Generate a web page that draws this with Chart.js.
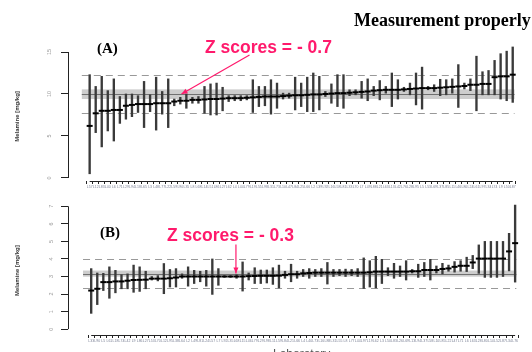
<!DOCTYPE html>
<html>
<head>
<meta charset="utf-8">
<script src="https://cdn.jsdelivr.net/npm/chart.js@4"></script>
<style>
  html, body { margin: 0; padding: 0; background: #fff; }
  body { width: 532px; height: 352px; position: relative; overflow: hidden; }
  canvas { position: absolute; left: 0; }
  #chartA { top: 0; }
  #chartB { top: 195px; }
  .txt { position: absolute; white-space: nowrap; }
  .serif { font-family: "Liberation Serif", "Times New Roman", serif; font-weight: bold; color: #000; }
  .zs { font-family: "Liberation Sans", Arial, sans-serif; font-weight: bold; color: #ff1a6c; font-size: 17.5px; line-height: 18px; }
</style>
</head>
<body>
<canvas id="chartA" width="532" height="195"></canvas>
<canvas id="chartB" width="532" height="157"></canvas>

<div class="txt serif" style="left:354px; top:11px; font-size:18px; line-height:18px;">Measurement properly</div>
<div class="txt serif" style="left:97px; top:41px; font-size:15px; line-height:15px;">(A)</div>
<div class="txt serif" style="left:100px; top:225px; font-size:15px; line-height:15px;">(B)</div>
<div class="txt zs" style="left:205px; top:38px;">Z scores = - 0.7</div>
<div class="txt zs" style="left:167px; top:226px;">Z scores = - 0.3</div>
<div class="txt" style="left:273px; top:347px; font:12px 'Liberation Sans', sans-serif; color:#555;">Laboratory</div>

<script>
/* ------------------------------------------------------------
   Data
   ------------------------------------------------------------ */

// panel A - lab codes, sorted by result
const labsA = [57,12,83,40,6,71,29,94,18,65,3,48,77,22,59,90,35,8,68,14,51,86,27,62,4,44,79,19,55,98,31,73,10,47,84,25,66,2,39,92,16,58,81,33,70,7,49,88,21,63,13,42,76,28,95,5,53,69,37,85,11,46,80,24,61,97,34,74,9,50,87];
const valA = [6.2,7.7,8.0,8.0,8.1,8.1,8.6,8.7,8.8,8.8,8.8,8.9,8.9,8.9,9.1,9.2,9.2,9.3,9.3,9.35,9.4,9.4,9.45,9.5,
              9.5,9.5,9.55,9.6,9.65,9.7,9.7,9.7,9.75,9.8,9.85,9.85,9.9,9.95,9.95,10.0,10.05,10.1,10.1,10.15,10.2,10.25,10.3,10.4,
              10.45,10.5,10.5,10.5,10.55,10.6,10.65,10.7,10.7,10.7,10.75,10.8,10.85,10.9,10.95,11.1,11.1,11.2,11.2,12.0,12.1,12.1,12.3];
const loA  = [0.5,5.4,3.7,5.6,4.4,6.5,7.0,7.3,7.8,6.0,7.9,5.7,7.6,6.0,8.6,8.8,8.3,8.9,8.9,7.7,7.5,7.5,8.0,9.1,
              9.2,9.2,9.3,7.8,8.5,8.6,7.6,8.3,9.4,9.5,8.1,8.5,7.9,7.9,8.1,9.7,8.9,8.5,8.3,9.8,9.9,9.5,9.2,9.8,
              9.3,10.1,8.5,9.4,10.3,9.9,8.7,8.2,10.5,10.3,9.8,9.9,10.1,8.4,10.6,10.4,8.0,9.9,9.9,9.9,9.4,9.2,9.0];
const hiA  = [12.3,10.9,12.1,10.4,11.8,9.7,10.0,10.0,9.8,11.5,9.9,12.0,10.3,11.8,9.4,9.6,10.0,9.6,9.7,10.9,11.2,11.3,10.8,9.8,
              9.8,9.8,9.8,11.7,10.9,10.9,11.7,11.3,10.1,10.1,12.0,11.3,12.0,12.5,12.1,10.3,11.2,12.3,12.3,10.5,10.5,11.5,11.8,10.9,
              11.6,10.9,12.5,11.7,10.8,11.3,12.5,13.2,10.9,11.1,11.75,11.7,11.8,13.5,11.3,11.8,14.5,12.65,12.8,14.0,14.8,15.1,15.6];
const meanA = 10.0;
const bandA = [9.4, 10.55];
const limitsA = [7.78, 12.3];
const ticksA = [0, 5, 10, 15];
const arrowA = [16.2, 10.0];   // lab position, value

// panel B
const labsB = [33,90,5,61,18,74,42,9,86,27,53,70,12,95,38,64,2,49,81,24,57,7,92,35,68,15,46,79,29,98,11,59,84,21,66,4,40,73,16,88,31,55,8,77,44,97,19,62,3,50,83,26,69,13,94,37,58,10,85,22,47,71,6,63,28,80,14,52,87,34,76];
const valB = [2.2,2.3,2.68,2.68,2.72,2.72,2.76,2.8,2.81,2.82,2.88,2.88,2.88,2.9,2.94,3.0,3.0,3.0,3.0,3.0,3.0,3.0,3.0,3.0,3.0,3.0,3.02,3.03,
              3.04,3.04,3.04,3.05,3.09,3.13,3.13,3.18,3.2,3.22,3.22,3.22,3.22,3.22,3.22,3.22,3.22,3.22,3.24,3.28,3.28,3.28,3.28,3.28,3.28,
              3.3,3.3,3.37,3.37,3.37,3.43,3.46,3.55,3.61,3.61,3.8,4.02,4.02,4.02,4.02,4.02,4.43,4.9];
const loB  = [0.9,1.4,2.2,1.76,2.07,2.3,2.3,2.1,2.15,2.3,2.8,2.75,2.02,2.4,2.4,2.9,2.45,2.6,2.7,2.45,1.98,2.5,2.95,2.95,2.9,2.17,2.8,2.6,
              2.6,2.63,2.55,2.35,2.9,2.7,2.9,3.0,2.9,3.0,3.0,2.57,3.0,3.05,3.0,3.05,3.0,2.32,2.4,2.35,2.6,3.05,2.9,3.0,2.8,
              3.2,2.95,3.0,2.8,3.2,3.15,3.3,3.25,3.3,3.28,3.45,3.18,2.95,2.95,2.95,3.0,3.32,2.68];
const hiB  = [3.45,3.2,3.18,3.55,3.35,3.1,3.15,3.65,3.55,3.3,3.0,3.05,3.74,3.4,3.45,3.15,3.55,3.35,3.3,3.35,4.0,3.45,3.05,3.05,3.1,3.83,3.2,3.5,
              3.37,3.37,3.5,3.65,3.3,3.7,3.3,3.4,3.45,3.4,3.45,3.8,3.4,3.4,3.42,3.4,3.45,4.06,3.9,4.15,3.98,3.5,3.75,3.6,3.9,
              3.4,3.7,3.8,3.98,3.6,3.75,3.65,3.85,3.9,4.1,4.2,4.8,5.0,5.0,5.0,5.0,5.46,7.07];
const meanB = 3.17;
const bandB = [2.99, 3.34];
const limitsB = [2.32, 4.02];
const ticksB = [0, 1, 2, 3, 4, 5, 6, 7];
const arrowB = [24.9, 3.17];

Chart.defaults.font.family = "'Liberation Sans', Arial, sans-serif";

/* ------------------------------------------------------------
   Plugin: consensus band, mean line, limits, R-style axis lines, arrow
   ------------------------------------------------------------ */
const refLines = {
  id: 'refLines',
  beforeDatasetsDraw(chart, args, o) {
    const { ctx, scales: { x, y } } = chart;
    const x0 = x.getPixelForValue(o.span[0]);
    const x1 = x.getPixelForValue(o.span[1]);
    ctx.save();
    // band
    const bTop = y.getPixelForValue(o.band[1]);
    const bBot = y.getPixelForValue(o.band[0]);
    ctx.fillStyle = '#cdcdcd';
    ctx.fillRect(x0, bTop, x1 - x0, bBot - bTop);
    // mean
    ctx.strokeStyle = '#707070';
    ctx.lineWidth = 1;
    const ym = Math.round(y.getPixelForValue(o.mean)) + 0.5;
    ctx.beginPath(); ctx.moveTo(x0, ym); ctx.lineTo(x1, ym); ctx.stroke();
    // limits
    ctx.strokeStyle = '#999';
    ctx.lineWidth = 1.2;
    ctx.setLineDash([7, 5]);
    o.limits.forEach(v => {
      const yy = Math.round(y.getPixelForValue(v)) + 0.5;
      ctx.beginPath(); ctx.moveTo(x0, yy); ctx.lineTo(x1, yy); ctx.stroke();
    });
    ctx.restore();
  },
  afterDraw(chart, args, o) {
    const { ctx, chartArea: a, scales: { x, y } } = chart;
    ctx.save();
    ctx.strokeStyle = '#222';
    ctx.lineWidth = 1;
    // y axis from first to last tick
    const ax = Math.round(a.left) + 0.5;
    ctx.beginPath();
    ctx.moveTo(ax, y.getPixelForValue(o.ticks[0]));
    ctx.lineTo(ax, y.getPixelForValue(o.ticks[o.ticks.length - 1]));
    ctx.stroke();
    // x axis from first to last lab
    const ay = Math.round(a.bottom) + 0.5;
    ctx.beginPath();
    ctx.moveTo(x.getPixelForValue(1), ay);
    ctx.lineTo(x.getPixelForValue(o.n), ay);
    ctx.stroke();

    // arrow to the lab
    const tx = x.getPixelForValue(o.arrow[0]);
    const ty = y.getPixelForValue(o.arrow[1]);
    const sx = tx + o.tail[0], sy = ty + o.tail[1];
    const ang = Math.atan2(ty - sy, tx - sx);
    ctx.strokeStyle = '#ff1a6c';
    ctx.fillStyle = '#ff1a6c';
    ctx.lineWidth = 1.2;
    ctx.beginPath(); ctx.moveTo(sx, sy); ctx.lineTo(tx, ty); ctx.stroke();
    ctx.beginPath();
    ctx.moveTo(tx, ty);
    ctx.lineTo(tx - 6 * Math.cos(ang) + 2.5 * Math.sin(ang), ty - 6 * Math.sin(ang) - 2.5 * Math.cos(ang));
    ctx.lineTo(tx - 6 * Math.cos(ang) - 2.5 * Math.sin(ang), ty - 6 * Math.sin(ang) + 2.5 * Math.cos(ang));
    ctx.closePath();
    ctx.fill();
    ctx.restore();
  },
};

/* ------------------------------------------------------------
   Panel builder
   ------------------------------------------------------------ */
function panel(id, p) {
  return new Chart(document.getElementById(id), {
    type: 'bar',
    data: {
      datasets: [
        {
          type: 'scatter',
          data: p.vals.map((v, i) => ({ x: i + 1, y: v })),
          pointStyle: 'line',
          pointRadius: 3,
          borderColor: '#000',
          borderWidth: 2,
          order: 1,
          clip: false,
        },
        {
          data: p.lo.map((l, i) => ({ x: i + 1, y: [l, p.hi[i]] })),
          barThickness: 1.7,
          backgroundColor: '#3a3a3a',
          order: 2,
          clip: false,
        },
      ],
    },
    options: {
      responsive: false,
      animation: false,
      events: [],
      layout: { padding: { left: 12, top: p.padTop, right: 7, bottom: 0 } },
      plugins: {
        legend: { display: false },
        tooltip: { enabled: false },
        refLines: {
          mean: p.mean, band: p.band, limits: p.limits, span: p.span,
          ticks: p.yTicks, n: p.vals.length, arrow: p.arrow, tail: p.tail,
        },
      },
      scales: {
        x: {
          type: 'linear',
          min: p.xMin, max: p.xMax,
          afterBuildTicks: s => { s.ticks = p.labs.map((_, i) => ({ value: i + 1 })); },
          afterFit: s => { s.height = p.xH; },
          border: { display: false },
          grid: { drawOnChartArea: false, tickLength: 3, color: '#222' },
          ticks: {
            autoSkip: false, minRotation: 0, maxRotation: 0, padding: 1,
            font: { size: 3.5 }, color: '#7c8296',
            callback: v => 'L' + p.labs[v - 1],
          },
        },
        y: {
          type: 'linear',
          min: p.yMin, max: p.yMax,
          afterBuildTicks: s => { s.ticks = p.yTicks.map(v => ({ value: v })); },
          afterFit: s => { s.width = 56; },
          border: { display: false },
          grid: { drawOnChartArea: false, tickLength: 7, color: '#222' },
          ticks: {
            font: { size: 5.5 }, color: '#999', minRotation: 90, maxRotation: 90,
            crossAlign: 'center', padding: 8,
          },
          title: {
            display: true, text: 'Melamine [mg/kg]', color: '#333',
            font: { size: 6, weight: 'bold', family: "'Liberation Sans Narrow', 'Liberation Sans', sans-serif" },
            padding: { top: 2, bottom: 0 },
          },
        },
      },
    },
    plugins: [refLines],
  });
}

panel('chartA', {
  labs: labsA, vals: valA, lo: loA, hi: hiA,
  mean: meanA, band: bandA, limits: limitsA, yTicks: ticksA,
  arrow: arrowA, tail: [68, -39],
  span: [-0.3, 71.3],
  xMin: -2.05, xMax: 72.5, yMin: -0.36, yMax: 15,
  padTop: 52, xH: 14,
});

panel('chartB', {
  labs: labsB, vals: valB, lo: loB, hi: hiB,
  mean: meanB, band: bandB, limits: limitsB, yTicks: ticksB,
  arrow: arrowB, tail: [0, -29],
  span: [-0.35, 71.2],
  xMin: -2.3, xMax: 72.1, yMin: -0.333, yMax: 7,
  padTop: 8, xH: 17,
});
</script>
</body>
</html>
